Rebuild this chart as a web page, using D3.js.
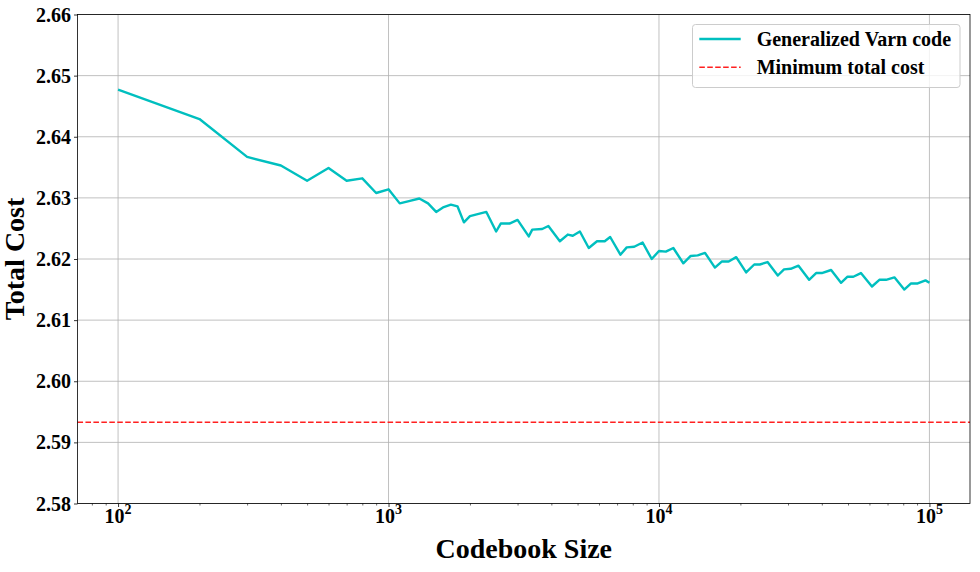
<!DOCTYPE html>
<html><head><meta charset="utf-8">
<script src="https://cdn.jsdelivr.net/npm/d3@7"></script>
<style>
body{margin:0;background:#fff}
svg{display:block}
text{font-family:"Liberation Serif","Times New Roman",serif;font-weight:bold;fill:#000}
</style>
</head><body>
<svg id="c" width="980" height="572"></svg>
<script>
const sizes = [100,200,300,400,500,600,700,800,900,1000,
  1100,1200,1300,1400,1500,1600,1700,1800,1900,2000,
  2300,2500,2600,2800,3000,3300,3400,3700,3900,4300,4600,4800,5100,
  5500,5900,6300,6600,7200,7600,8100,8700,9400,10000,10600,11300,
  12300,13100,13900,14800,16100,17100,18100,19300,21000,22500,23600,25200,
  27500,29000,30700,32800,35900,38100,40000,43300,47100,49800,52300,55800,
  61300,65300,69100,74200,80700,85500,90500,96700,100000];
const costs = [2.6477,2.6429,2.6367,2.6353,2.6328,2.6349,2.6328,2.6332,2.6308,2.6314,
  2.6291,2.6295,2.6299,2.6291,2.6277,2.6285,2.6289,2.6286,2.6260,2.6270,
  2.6277,2.6245,2.6258,2.6258,2.6264,2.6237,2.6248,2.6249,2.6254,2.6229,2.6240,2.6238,2.6245,
  2.6218,2.6229,2.6229,2.6236,2.6207,2.6219,2.6220,2.6227,2.6200,2.6213,2.6212,2.6218,
  2.6193,2.6205,2.6206,2.6210,2.6186,2.6196,2.6196,2.6203,2.6178,2.6191,2.6191,2.6195,
  2.6173,2.6183,2.6184,2.6189,2.6166,2.6177,2.6177,2.6182,2.6161,2.6171,2.6171,2.6177,
  2.6155,2.6166,2.6166,2.6170,2.6150,2.6160,2.6160,2.6165,2.6161];
const minTotalCost = 2.5933;
const yTicks = [2.58,2.59,2.60,2.61,2.62,2.63,2.64,2.65,2.66];
const xTicks = [1e2,1e3,1e4,1e5];
const xTickExps = ["2","3","4","5"];
const seriesNames = ["Generalized Varn code","Minimum total cost"];
const xLabel = "Codebook Size";
const yLabel = "Total Cost";

const svg = d3.select("#c");
const L = 77.5, R = 970, T = 14.5, B = 503.5;
const x = d3.scaleLog().domain([Math.pow(10,1.85), Math.pow(10,5.15)]).range([L,R]);
const y = d3.scaleLinear().domain([2.58,2.66]).range([B,T]);

// grid
const g = svg.append("g");
g.selectAll("line.gx").data(xTicks).enter().append("line")
  .attr("x1",d=>x(d)).attr("x2",d=>x(d)).attr("y1",T).attr("y2",B)
  .attr("stroke","#b0b0b0").attr("stroke-width",0.8);
g.selectAll("line.gy").data(yTicks).enter().append("line")
  .attr("x1",L).attr("x2",R).attr("y1",d=>y(d)).attr("y2",d=>y(d))
  .attr("stroke","#b0b0b0").attr("stroke-width",0.8);

// min cost line
svg.append("line").attr("x1",L).attr("x2",R)
  .attr("y1",y(minTotalCost)).attr("y2",y(minTotalCost))
  .attr("stroke","#ff2020").attr("stroke-width",1.6).attr("stroke-dasharray","5.55,2.4");

// series
const line = d3.line().x((d,i)=>x(sizes[i])).y(d=>y(d));
svg.append("path").datum(costs).attr("d",line)
  .attr("fill","none").attr("stroke","#00bfbf").attr("stroke-width",2.4)
  .attr("stroke-linejoin","round");

// axes
const xAxis = d3.axisBottom(x).tickValues(xTicks).tickSize(3.5).tickFormat("");
const gx = svg.append("g").attr("transform",`translate(0,${B})`).call(xAxis);
gx.select(".domain").remove();
gx.selectAll("line").attr("stroke","#000").attr("stroke-width",0.8);
const minor = [];
[1,2,3,4,5].forEach(e=>{for(let m=2;m<=9;m++){const v=m*Math.pow(10,e);if(v>=x.domain()[0]&&v<=x.domain()[1])minor.push(v);}});
const minorAxis = d3.axisBottom(x).tickValues(minor).tickSize(2).tickFormat("");
const gm = svg.append("g").attr("transform",`translate(0,${B})`).call(minorAxis);
gm.select(".domain").remove();
gm.selectAll("line").attr("stroke","#000").attr("stroke-width",0.6);

xTicks.forEach((v,i)=>{
  const t = svg.append("text").attr("x",x(v)).attr("y",B+19).attr("text-anchor","middle")
    .style("font-size","20px");
  t.append("tspan").text("10");
  t.append("tspan").attr("dy",-9).style("font-size","14px").text(xTickExps[i]);
});

const yAxis = d3.axisLeft(y).tickValues(yTicks).tickSize(3.5).tickPadding(3).tickFormat(d3.format(".2f"));
const gy = svg.append("g").attr("transform",`translate(${L},0)`).call(yAxis);
gy.select(".domain").remove();
gy.selectAll("line").attr("stroke","#000").attr("stroke-width",0.8);
gy.selectAll("text").style("font-size","20px").style("font-family",'"Liberation Serif",serif').style("font-weight","bold").attr("dy","0.33em");

// frame
svg.append("rect").attr("x",L).attr("y",T).attr("width",R-L).attr("height",B-T)
  .attr("fill","none").attr("stroke","#000").attr("stroke-width",0.8);

// labels
svg.append("text").attr("x",(L+R)/2).attr("y",558).attr("text-anchor","middle")
  .style("font-size","28px").text(xLabel);
svg.append("text").attr("transform",`translate(24,${(T+B)/2}) rotate(-90)`).attr("text-anchor","middle")
  .style("font-size","28px").text(yLabel);

// legend
const lg = svg.append("g");
lg.append("rect").attr("x",692.5).attr("y",24.5).attr("width",267.5).attr("height",63)
  .attr("rx",3).attr("fill","#fff").attr("fill-opacity",0.8).attr("stroke","#cccccc").attr("stroke-width",1);
const legendStyles = [{c:"#00bfbf",w:2.4,dash:null,yy:39},{c:"#ff2020",w:1.6,dash:"5.55,2.4",yy:67.3}];
seriesNames.forEach((n,i)=>{
  const s = legendStyles[i];
  lg.append("line").attr("x1",699.3).attr("x2",740.7).attr("y1",s.yy).attr("y2",s.yy)
    .attr("stroke",s.c).attr("stroke-width",s.w).attr("stroke-dasharray",s.dash);
  lg.append("text").attr("x",756.7).attr("y",s.yy+7).style("font-size","20px").text(n);
});
</script>
</body></html>
